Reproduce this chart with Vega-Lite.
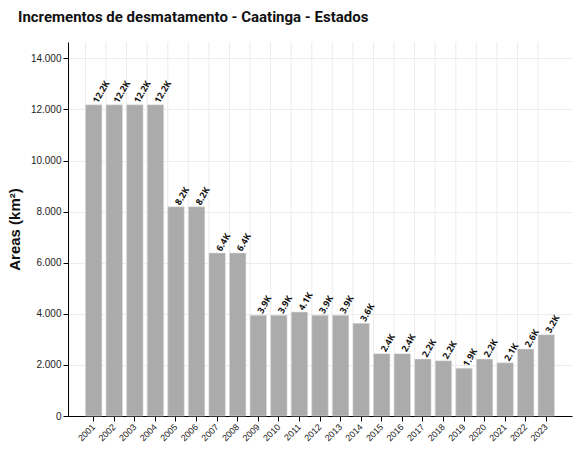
{
  "$schema": "https://vega.github.io/schema/vega-lite/v6.json",
  "autosize": "none",
  "padding": {"left": 68, "top": 42, "right": 9, "bottom": 36},
  "width": 504,
  "height": 374,
  "background": "white",
  "title": {
    "text": "Incrementos de desmatamento - Caatinga - Estados",
    "anchor": "start",
    "frame": "group",
    "dx": -50,
    "dy": -3,
    "font": "Roboto",
    "fontSize": 15,
    "fontWeight": "bold",
    "color": "#111",
    "offset": 14
  },
  "data": {
    "values": [
      {"ano": "2001", "area": 12180},
      {"ano": "2002", "area": 12180},
      {"ano": "2003", "area": 12180},
      {"ano": "2004", "area": 12180},
      {"ano": "2005", "area": 8190},
      {"ano": "2006", "area": 8190},
      {"ano": "2007", "area": 6380},
      {"ano": "2008", "area": 6380},
      {"ano": "2009", "area": 3940},
      {"ano": "2010", "area": 3940},
      {"ano": "2011", "area": 4070},
      {"ano": "2012", "area": 3940},
      {"ano": "2013", "area": 3940},
      {"ano": "2014", "area": 3630},
      {"ano": "2015", "area": 2440},
      {"ano": "2016", "area": 2440},
      {"ano": "2017", "area": 2230},
      {"ano": "2018", "area": 2160},
      {"ano": "2019", "area": 1870},
      {"ano": "2020", "area": 2230},
      {"ano": "2021", "area": 2080},
      {"ano": "2022", "area": 2620},
      {"ano": "2023", "area": 3180}
    ]
  },
  "transform": [
    {"calculate": "format(datum.area / 1000, '.1f') + 'K'", "as": "rotulo"}
  ],
  "encoding": {
    "x": {
      "field": "ano",
      "type": "ordinal",
      "scale": {"paddingInner": 0.2, "paddingOuter": 0.85},
      "axis": {
        "title": null,
        "labelAngle": -45,
        "labelAlign": "right",
        "labelBaseline": "middle",
        "labelFont": "Liberation Sans",
        "labelFontSize": 9,
        "labelColor": "#222",
        "labelPadding": 4,
        "domainColor": "#000",
        "tickColor": "#000",
        "tickSize": 5,
        "grid": false
      }
    },
    "y": {
      "field": "area",
      "type": "quantitative",
      "scale": {"domain": [0, 14640], "nice": false},
      "axis": {
        "title": "Areas (km²)",
        "titleFont": "Liberation Sans",
        "titleFontSize": 15,
        "titleFontWeight": "bold",
        "titleColor": "#111",
        "titlePadding": 8,
        "values": [0, 2000, 4000, 6000, 8000, 10000, 12000, 14000],
        "labelExpr": "replace(format(datum.value, ','), ',', '.')",
        "labelFont": "Liberation Sans",
        "labelFontSize": 10,
        "labelColor": "#222",
        "domainColor": "#000",
        "tickColor": "#000",
        "tickSize": 5,
        "gridColor": "#ececec"
      }
    }
  },
  "layer": [
    {
      "mark": {"type": "rule", "color": "#ececec", "strokeWidth": 1},
      "encoding": {"x": {"field": "ano", "type": "ordinal", "bandPosition": 0}, "y": null}
    },
    {
      "mark": {"type": "bar", "color": "#ababab", "stroke": "#e0e0e0", "strokeWidth": 0.5}
    },
    {
      "mark": {
        "type": "text",
        "angle": 300,
        "align": "left",
        "baseline": "middle",
        "dx": 3,
        "font": "Open Sans",
        "fontSize": 9,
        "fontWeight": "bold",
        "color": "#111"
      },
      "encoding": {"text": {"field": "rotulo"}}
    }
  ],
  "config": {"view": {"stroke": null}}
}
